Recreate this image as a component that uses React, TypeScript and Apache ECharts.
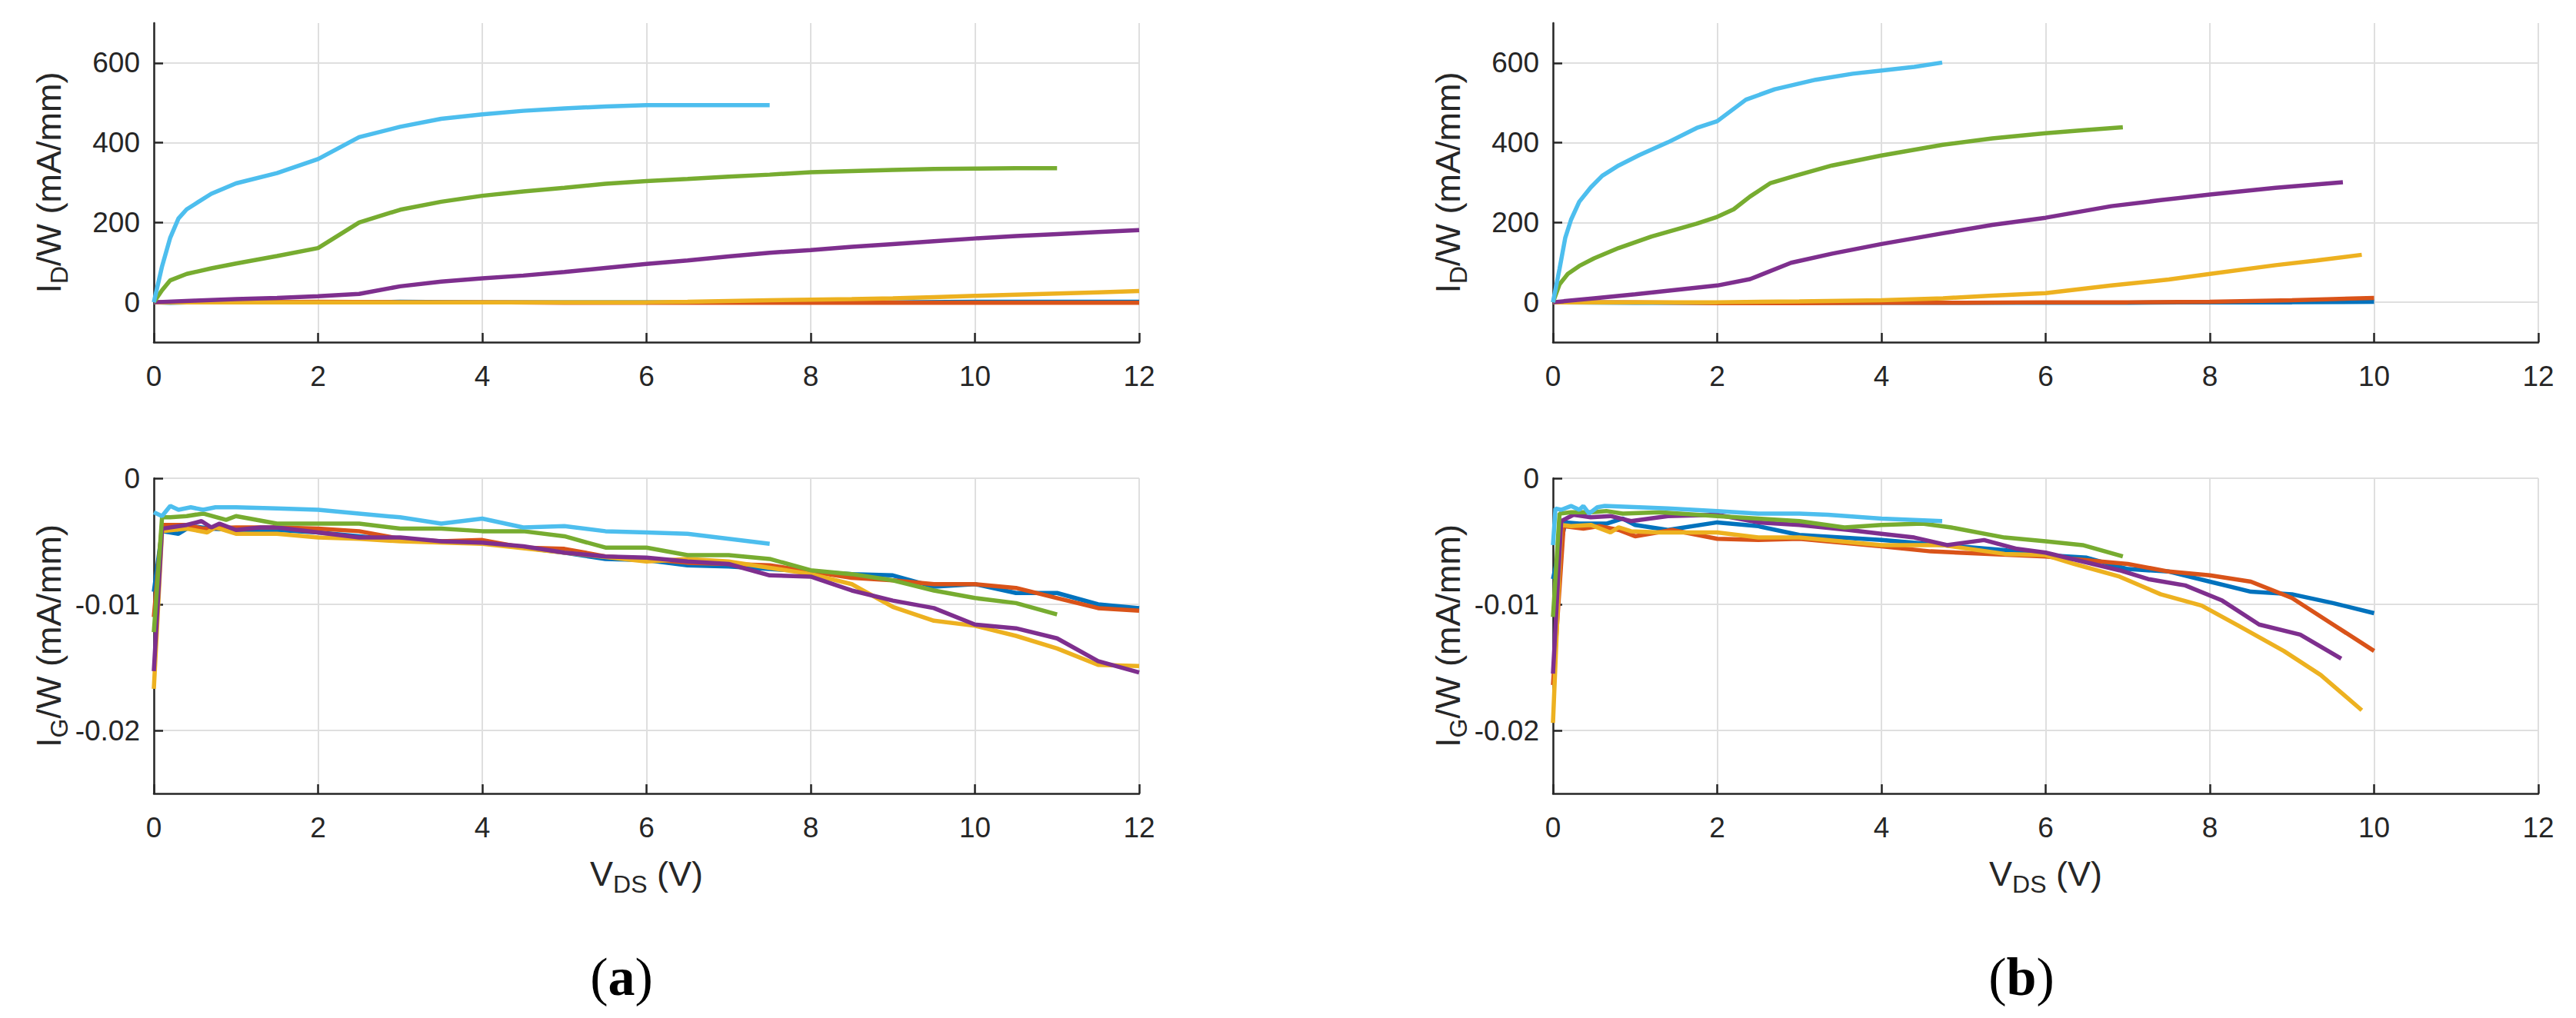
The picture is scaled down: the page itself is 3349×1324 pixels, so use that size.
import React, { useEffect, useRef } from "react";
import * as echarts from "echarts";

// MATLAB default line colours, in plotting order
const seriesColors = ["#0072BD", "#D95319", "#EDB120", "#7E2F8E", "#77AC30", "#4DBEEE"];

const xTicks = [0, 2, 4, 6, 8, 10, 12];
const idTicks = [0, 200, 400, 600];
const igTicks = [-0.02, -0.01, 0];

// (a) drain current, I_D/W (mA/mm) vs V_DS (V)
const idA_blue = [[0, 0], [0.2, -1], [0.5, 0], [1, 0], [2, 0], [3, 1], [4, 0], [5, 0], [6, 0], [7, 0], [8, 0], [9, 0], [10, 1], [11, 1], [12, 1]];
const idA_red = [[0, 0], [1, 0], [2, 1], [3, 0], [4, 0], [5, -1], [6, -1], [7, -1], [8, -1], [9, -1], [10, -1], [11, -1], [12, -1]];
const idA_yellow = [[0, 0], [1, 0], [2, 0], [3, 0], [4, 0], [5, 0], [6, 0], [6.5, 1], [7, 3], [7.5, 5], [8, 6.5], [8.5, 8], [9, 10], [9.5, 13], [10, 16], [10.5, 19], [11, 22], [11.5, 25], [12, 28]];
const idA_purple = [[0, 0], [0.5, 4], [1, 8], [1.5, 11], [2, 15], [2.5, 21], [3, 40], [3.5, 52], [4, 60], [4.5, 67], [5, 76], [5.5, 86], [6, 96], [6.5, 105], [7, 115], [7.5, 124], [8, 131], [8.5, 139], [9, 146], [9.5, 153], [10, 160], [10.5, 166], [11, 171], [11.5, 176], [12, 181]];
const idA_green = [[0, 0], [0.1, 30], [0.2, 55], [0.4, 71], [0.7, 85], [1, 97], [1.5, 116], [2, 136], [2.5, 200], [3, 232], [3.5, 252], [4, 267], [4.5, 278], [5, 287], [5.5, 297], [6, 304], [6.5, 309], [7, 315], [7.5, 320], [8, 326], [8.5, 329], [9, 332], [9.5, 334], [10, 335], [10.5, 336], [11, 336]];
const idA_cyan = [[0, 0], [0.1, 90], [0.2, 162], [0.3, 210], [0.4, 233], [0.5, 246], [0.7, 272], [1, 298], [1.5, 324], [2, 359], [2.5, 414], [3, 440], [3.5, 460], [4, 471], [4.5, 480], [5, 486], [5.5, 491], [6, 494], [6.5, 494], [7, 494], [7.5, 494]];

// (a) gate current, I_G/W (mA/mm)
const igA_blue = [[0, -0.009], [0.1, -0.0042], [0.3, -0.0044], [0.45, -0.0038], [0.7, -0.004], [1, -0.0041], [1.5, -0.0041], [2, -0.0043], [2.5, -0.0046], [3, -0.0049], [3.5, -0.005], [4, -0.0051], [4.5, -0.0055], [5, -0.0059], [5.5, -0.0064], [6, -0.0065], [6.5, -0.0069], [7, -0.007], [7.5, -0.0072], [8, -0.0074], [8.5, -0.0076], [9, -0.0077], [9.5, -0.0086], [10, -0.0084], [10.5, -0.0091], [11, -0.0091], [11.5, -0.01], [12, -0.0103]];
const igA_red = [[0, -0.011], [0.1, -0.0037], [0.4, -0.0037], [0.6, -0.004], [1, -0.0039], [1.5, -0.0039], [2, -0.004], [2.5, -0.0042], [3, -0.0048], [3.5, -0.005], [4, -0.0049], [4.5, -0.0055], [5, -0.0056], [5.5, -0.0062], [6, -0.0064], [6.5, -0.0067], [7, -0.0068], [7.5, -0.0069], [8, -0.0074], [8.5, -0.0079], [9, -0.0081], [9.5, -0.0084], [10, -0.0084], [10.5, -0.0087], [11, -0.0095], [11.5, -0.0103], [12, -0.0105]];
const igA_yellow = [[0, -0.0167], [0.1, -0.0042], [0.4, -0.004], [0.65, -0.0043], [0.75, -0.0039], [1, -0.0044], [1.5, -0.0044], [2, -0.0047], [2.5, -0.0048], [3, -0.005], [4, -0.0052], [5, -0.0059], [6, -0.0066], [6.5, -0.0064], [7, -0.0066], [7.5, -0.0071], [8, -0.0076], [8.5, -0.0084], [9, -0.0102], [9.5, -0.0113], [10, -0.0117], [10.5, -0.0125], [11, -0.0135], [11.5, -0.0148], [12, -0.0149]];
const igA_purple = [[0, -0.0153], [0.1, -0.004], [0.4, -0.0037], [0.58, -0.0034], [0.7, -0.0039], [0.8, -0.0036], [1, -0.0041], [1.3, -0.0039], [1.5, -0.0039], [2, -0.0043], [2.5, -0.0047], [3, -0.0047], [3.5, -0.005], [4, -0.0051], [4.5, -0.0054], [5, -0.0059], [5.5, -0.0062], [6, -0.0063], [6.5, -0.0066], [7, -0.0068], [7.5, -0.0077], [8, -0.0078], [8.5, -0.0089], [9, -0.0097], [9.5, -0.0103], [10, -0.0116], [10.5, -0.0119], [11, -0.0127], [11.5, -0.0145], [12, -0.0154]];
const igA_green = [[0, -0.0122], [0.1, -0.0031], [0.2, -0.0031], [0.4, -0.003], [0.6, -0.0028], [0.88, -0.0033], [1, -0.003], [1.5, -0.0036], [2, -0.0036], [2.5, -0.0036], [3, -0.004], [3.5, -0.004], [4, -0.0042], [4.5, -0.0042], [5, -0.0046], [5.5, -0.0055], [6, -0.0055], [6.5, -0.0061], [7, -0.0061], [7.5, -0.0064], [8, -0.0073], [8.5, -0.0076], [9, -0.0081], [9.5, -0.0089], [10, -0.0095], [10.5, -0.0099], [11, -0.0108]];
const igA_cyan = [[0, -0.0027], [0.1, -0.003], [0.2, -0.0022], [0.3, -0.0025], [0.45, -0.0023], [0.6, -0.0025], [0.75, -0.0023], [1, -0.0023], [1.5, -0.0024], [2, -0.0025], [2.5, -0.0028], [3, -0.0031], [3.5, -0.0036], [4, -0.0032], [4.5, -0.0039], [5, -0.0038], [5.5, -0.0042], [6, -0.0043], [6.5, -0.0044], [7, -0.0048], [7.5, -0.0052]];

// (b) drain current
const idB_blue = [[0, 0], [1, -1], [2, -1], [3, -1], [4, -1], [5, -1], [6, -1], [7, -1], [8, 0], [9, 0], [10, 1]];
const idB_red = [[0, 0], [1, 0], [2, -2], [3, -2], [4, -1], [5, -1], [6, 0], [7, 0], [8, 1], [8.5, 3], [9, 5], [9.5, 8], [10, 11]];
const idB_yellow = [[0, 0], [1, 0], [2, 0], [3, 2], [4, 5], [4.75, 10], [5.3, 16], [6, 23], [6.8, 42], [7.5, 57], [8, 71], [8.8, 93], [9.3, 105], [9.85, 119]];
const idB_purple = [[0, 0], [0.5, 10], [1, 20], [1.5, 31], [2, 42], [2.4, 58], [2.9, 99], [3.4, 122], [4, 146], [4.75, 173], [5.35, 194], [6, 212], [6.8, 241], [7.4, 256], [8, 270], [8.8, 287], [9.62, 301]];
const idB_green = [[0, 0], [0.08, 45], [0.18, 71], [0.32, 91], [0.5, 110], [0.8, 136], [1.2, 165], [1.75, 197], [2, 214], [2.2, 233], [2.4, 265], [2.65, 299], [2.95, 317], [3.4, 343], [4, 368], [4.75, 395], [5.35, 411], [6, 424], [6.5, 432], [6.94, 439]];
const idB_cyan = [[0, 0], [0.08, 84], [0.15, 162], [0.22, 207], [0.32, 252], [0.46, 288], [0.6, 317], [0.8, 343], [1.05, 369], [1.4, 401], [1.75, 437], [2, 454], [2.35, 508], [2.7, 534], [3.2, 558], [3.65, 573], [4, 581], [4.4, 590], [4.74, 601]];

// (b) gate current
const igB_blue = [[0, -0.008], [0.15, -0.0035], [0.32, -0.0036], [0.65, -0.0036], [0.85, -0.0032], [1, -0.0037], [1.4, -0.0041], [2, -0.0035], [2.5, -0.0038], [3, -0.0045], [4, -0.0049], [4.75, -0.0053], [5.5, -0.0057], [6, -0.0061], [6.5, -0.0063], [7, -0.0072], [7.5, -0.0074], [8, -0.0082], [8.5, -0.009], [9, -0.0092], [9.5, -0.0099], [10, -0.0107]];
const igB_red = [[0, -0.0164], [0.13, -0.0038], [0.37, -0.004], [0.56, -0.0038], [0.8, -0.0041], [1, -0.0046], [1.45, -0.0041], [2, -0.0048], [2.5, -0.0049], [3, -0.0048], [4, -0.0054], [4.6, -0.0058], [6, -0.0062], [7, -0.0068], [7.5, -0.0074], [8, -0.0077], [8.5, -0.0082], [9, -0.0095], [9.5, -0.0116], [10, -0.0137]];
const igB_yellow = [[0, -0.0194], [0.1, -0.0037], [0.22, -0.0038], [0.46, -0.0037], [0.7, -0.0043], [0.8, -0.0039], [0.95, -0.0042], [1.3, -0.0043], [2, -0.0043], [2.5, -0.0047], [3, -0.0047], [4, -0.0053], [4.75, -0.0053], [5.5, -0.006], [6, -0.0061], [6.35, -0.0068], [6.9, -0.0078], [7.4, -0.0092], [7.9, -0.0101], [8.35, -0.0117], [8.9, -0.0137], [9.35, -0.0156], [9.85, -0.0184]];
const igB_purple = [[0, -0.0155], [0.1, -0.0034], [0.25, -0.0029], [0.46, -0.0031], [0.7, -0.003], [0.95, -0.0034], [1.4, -0.003], [2, -0.0029], [2.5, -0.0035], [3, -0.0037], [3.6, -0.0041], [4, -0.0044], [4.4, -0.0047], [4.8, -0.0053], [5.25, -0.0049], [5.65, -0.0056], [6, -0.0059], [6.9, -0.0073], [7.25, -0.008], [7.7, -0.0085], [8.15, -0.0097], [8.6, -0.0116], [9.1, -0.0124], [9.6, -0.0143]];
const igB_green = [[0, -0.011], [0.08, -0.0028], [0.22, -0.0027], [0.46, -0.0027], [0.65, -0.0026], [0.85, -0.0028], [1.3, -0.0027], [2, -0.003], [2.5, -0.0032], [3, -0.0034], [3.55, -0.0039], [4, -0.0037], [4.5, -0.0036], [4.85, -0.0039], [5.5, -0.0047], [6, -0.005], [6.45, -0.0053], [6.94, -0.0062]];
const igB_cyan = [[0, -0.0053], [0.03, -0.0024], [0.1, -0.0025], [0.22, -0.0022], [0.32, -0.0025], [0.37, -0.0022], [0.44, -0.0028], [0.54, -0.0023], [0.63, -0.0022], [1.05, -0.0023], [1.4, -0.0024], [2, -0.0026], [2.5, -0.0028], [3, -0.0028], [3.35, -0.0029], [4, -0.0032], [4.74, -0.0034]];

const panels = [
  [idA_blue, idA_red, idA_yellow, idA_purple, idA_green, idA_cyan],
  [igA_blue, igA_red, igA_yellow, igA_purple, igA_green, igA_cyan],
  [idB_blue, idB_red, idB_yellow, idB_purple, idB_green, idB_cyan],
  [igB_blue, igB_red, igB_yellow, igB_purple, igB_green, igB_cyan],
];

const INK = "#262626";
const FONT = "Liberation Sans";

const App: React.FC = () => {
  const chartRef = useRef<HTMLDivElement>(null);

  useEffect(() => {
    if (!chartRef.current) return;
    const chart = echarts.init(chartRef.current, undefined, { renderer: "svg" });

    const gridBox = [
      { left: 200, top: 30, width: 1281, height: 415 },
      { left: 200, top: 622, width: 1281, height: 410 },
      { left: 2019, top: 30, width: 1281, height: 415 },
      { left: 2019, top: 622, width: 1281, height: 410 },
    ];

    const nameRich = {
      m: { fontSize: 45, lineHeight: 60, color: INK, fontFamily: FONT },
      s: { fontSize: 32, lineHeight: 16, verticalAlign: "bottom", color: INK, fontFamily: FONT },
    };

    const xAxes = gridBox.map((_, i) => ({
      type: "value",
      gridIndex: i,
      min: 0,
      max: 12,
      interval: 2,
      axisLine: { show: true, onZero: false, lineStyle: { color: INK, width: 2.5 } },
      axisTick: { show: true, inside: true, length: 12, customValues: xTicks, lineStyle: { color: INK, width: 2.5 } },
      axisLabel: { show: true, customValues: xTicks, margin: 26, fontSize: 37, color: INK, fontFamily: FONT },
      splitLine: { show: true, lineStyle: { color: "#dfdfdf", width: 2 } },
      name: i % 2 === 1 ? "{m|V}{s|DS}{m| (V)}" : "",
      nameLocation: "middle",
      nameGap: 74,
      nameTextStyle: { rich: nameRich },
    }));

    const yAxes = gridBox.map((_, i) => {
      const isId = i % 2 === 0;
      const ticks = isId ? idTicks : igTicks;
      return {
        type: "value",
        gridIndex: i,
        min: isId ? -100 : -0.025,
        max: isId ? 700 : 0,
        axisLine: { show: true, onZero: false, lineStyle: { color: INK, width: 2.5 } },
        axisTick: { show: true, inside: true, length: 12, customValues: ticks, lineStyle: { color: INK, width: 2.5 } },
        axisLabel: {
          show: true,
          customValues: ticks,
          margin: 18,
          fontSize: 37,
          color: INK,
          fontFamily: FONT,
          formatter: (v: number) => (v === 0 ? "0" : String(Math.round(v * 1000) / 1000)),
        },
        splitLine: { show: true, lineStyle: { color: "#dfdfdf", width: 2 } },
        name: isId ? "{m|I}{s|D}{m|/W (mA/mm)}" : "{m|I}{s|G}{m|/W (mA/mm)}",
        nameLocation: "middle",
        nameRotate: 90,
        nameGap: 107,
        nameTextStyle: { rich: nameRich },
      };
    });

    const series: any[] = [];
    panels.forEach((lines, p) => {
      lines.forEach((data, k) => {
        series.push({
          type: "line",
          xAxisIndex: p,
          yAxisIndex: p,
          data,
          symbol: "none",
          showSymbol: false,
          clip: true,
          lineStyle: { color: seriesColors[k], width: 5.5 },
          itemStyle: { color: seriesColors[k] },
        });
      });
    });

    const labelRich = {
      p: { fontSize: 70, fontFamily: "Liberation Serif", color: "#000" },
      b: { fontSize: 70, fontFamily: "Liberation Serif", fontWeight: "bold", color: "#000" },
    };

    const option: any = {
      animation: false,
      backgroundColor: "#ffffff",
      grid: gridBox.map((g) => ({ ...g, containLabel: false, outerBoundsMode: "none" })),
      xAxis: xAxes,
      yAxis: yAxes,
      series,
      graphic: [
        { type: "text", x: 808, y: 1270, style: { text: "{p|(}{b|a}{p|)}", rich: labelRich, align: "center", verticalAlign: "middle" } },
        { type: "text", x: 2628, y: 1270, style: { text: "{p|(}{b|b}{p|)}", rich: labelRich, align: "center", verticalAlign: "middle" } },
      ],
    };

    chart.setOption(option);

    const handleResize = () => chart.resize();
    window.addEventListener("resize", handleResize);
    return () => {
      window.removeEventListener("resize", handleResize);
      chart.dispose();
    };
  }, []);

  return (
    <div
      ref={chartRef}
      style={{ position: "absolute", left: 0, top: 0, width: "3349px", height: "1324px", background: "#fff" }}
    />
  );
};

export default App;
